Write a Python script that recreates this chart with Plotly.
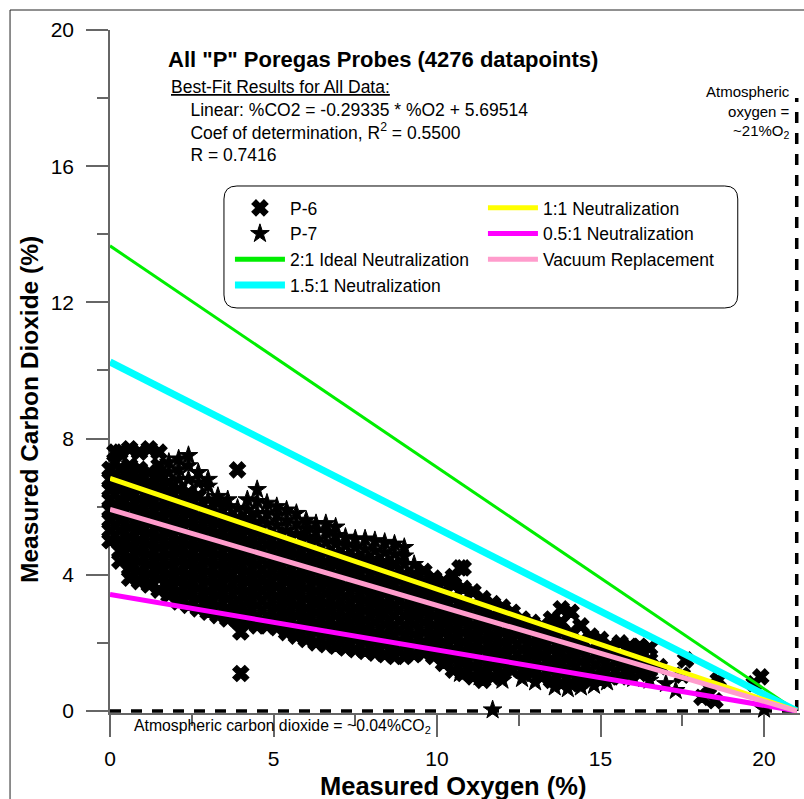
import plotly.graph_objects as go

FONT = "Liberation Sans, Arial, sans-serif"

# ---------------- data ----------------
# P-6 probe (x markers): (measured O2 %, [measured CO2 % values at that O2])
p6_columns = [
    (0.0, [5.0, 5.3, 5.6, 5.9, 6.2, 6.5, 6.8, 7.1]),
    (0.15, [6.0, 6.6, 7.3, 7.6]),
    (0.3, [4.4, 4.7, 5.0, 5.3, 5.6, 5.9, 6.2, 6.5, 6.8, 7.1, 7.6]),
    (0.6, [3.9, 4.2, 4.5, 4.8, 5.1, 5.4, 5.7, 6.0, 6.3, 6.6, 6.9, 7.2, 7.7]),
    (0.9, [3.8, 4.1, 4.4, 4.7, 5.0, 5.3, 5.6, 5.9, 6.2, 6.5, 6.8, 7.1, 7.6]),
    (1.2, [3.7, 4.0, 4.3, 4.6, 4.9, 5.2, 5.5, 5.8, 6.1, 6.4, 6.7, 7.0, 7.7]),
    (1.5, [3.55, 3.9, 4.2, 4.5, 4.8, 5.1, 5.4, 5.7, 6.0, 6.3, 6.6, 6.9, 7.2, 7.6]),
    (1.8, [3.4, 3.7, 4.0, 4.3, 4.6, 4.9, 5.2, 5.5, 5.8, 6.1, 6.4, 6.7]),
    (2.1, [3.2, 3.5, 3.8, 4.1, 4.4, 4.7, 5.0, 5.3, 5.6, 5.9, 6.2, 6.5]),
    (2.4, [3.1, 3.4, 3.7, 4.0, 4.3, 4.6, 4.9, 5.2, 5.5, 5.8, 6.1, 6.4]),
    (2.7, [3.0, 3.3, 3.6, 3.9, 4.2, 4.5, 4.8, 5.1, 5.4, 5.7, 6.0, 6.3]),
    (3.0, [2.9, 3.2, 3.5, 3.8, 4.1, 4.4, 4.7, 5.0, 5.3, 5.6, 5.9]),
    (3.3, [2.8, 3.1, 3.4, 3.7, 4.0, 4.3, 4.6, 4.9, 5.2, 5.5, 5.8]),
    (3.6, [2.7, 3.0, 3.3, 3.6, 3.9, 4.2, 4.5, 4.8, 5.1, 5.4, 5.7]),
    (3.9, [2.65, 2.95, 3.25, 3.55, 3.85, 4.15, 4.45, 4.75, 5.05, 5.35, 5.65]),
    (4.2, [2.6, 2.9, 3.2, 3.5, 3.8, 4.1, 4.4, 4.7, 5.0, 5.3, 5.6]),
    (4.5, [2.5, 2.8, 3.1, 3.4, 3.7, 4.0, 4.3, 4.6, 4.9, 5.2, 5.5]),
    (4.8, [2.5, 2.8, 3.1, 3.4, 3.7, 4.0, 4.3, 4.6, 4.9, 5.2]),
    (5.1, [2.45, 2.75, 3.05, 3.35, 3.65, 3.95, 4.25, 4.55, 4.85, 5.15]),
    (5.4, [2.3, 2.6, 2.9, 3.2, 3.5, 3.8, 4.1, 4.4, 4.7, 5.0]),
    (5.7, [2.2, 2.5, 2.8, 3.1, 3.4, 3.7, 4.0, 4.3, 4.6, 4.9]),
    (6.0, [2.1, 2.4, 2.7, 3.0, 3.3, 3.6, 3.9, 4.2, 4.5, 4.8]),
    (6.3, [2.0, 2.3, 2.6, 2.9, 3.2, 3.5, 3.8, 4.1, 4.4, 4.7]),
    (6.6, [1.95, 2.25, 2.55, 2.85, 3.15, 3.45, 3.75, 4.05, 4.35, 4.65]),
    (6.9, [1.9, 2.2, 2.5, 2.8, 3.1, 3.4, 3.7, 4.0, 4.3, 4.6]),
    (7.2, [1.85, 2.15, 2.45, 2.75, 3.05, 3.35, 3.65, 3.95, 4.25, 4.55]),
    (7.5, [1.8, 2.1, 2.4, 2.7, 3.0, 3.3, 3.6, 3.9, 4.2, 4.5]),
    (7.8, [1.75, 2.05, 2.35, 2.65, 2.95, 3.25, 3.55, 3.85, 4.15, 4.45]),
    (8.1, [1.7, 2.0, 2.3, 2.6, 2.9, 3.2, 3.5, 3.8, 4.1, 4.4]),
    (8.4, [1.65, 1.95, 2.25, 2.55, 2.85, 3.15, 3.45, 3.75, 4.05, 4.35]),
    (8.7, [1.6, 1.9, 2.2, 2.5, 2.8, 3.1, 3.4, 3.7, 4.0, 4.3]),
    (9.0, [1.6, 1.9, 2.2, 2.5, 2.8, 3.1, 3.4, 3.7, 4.0]),
    (9.3, [1.65, 1.95, 2.25, 2.55, 2.85, 3.15, 3.45, 3.75, 4.0]),
    (9.6, [1.7, 2.0, 2.3, 2.6, 2.9, 3.2, 3.5, 3.8, 4.1]),
    (9.9, [1.6, 1.9, 2.2, 2.5, 2.8, 3.1, 3.4, 3.7, 3.9]),
    (10.2, [1.4, 1.7, 2.0, 2.3, 2.6, 2.9, 3.2, 3.5, 3.8]),
    (10.5, [1.2, 1.5, 1.8, 2.1, 2.4, 2.7, 3.0, 3.3, 3.7, 3.95]),
    (10.8, [1.1, 1.4, 1.7, 2.0, 2.3, 2.6, 2.9, 3.2, 3.6, 4.2]),
    (11.1, [1.0, 1.3, 1.6, 1.9, 2.2, 2.5, 2.8, 3.1, 3.5]),
    (11.4, [0.9, 1.2, 1.5, 1.8, 2.1, 2.4, 2.7, 3.0, 3.3]),
    (11.7, [1.0, 1.3, 1.6, 1.9, 2.2, 2.5, 2.8, 3.15]),
    (12.0, [1.1, 1.4, 1.7, 2.0, 2.3, 2.6, 2.9, 3.05]),
    (12.3, [1.2, 1.5, 1.8, 2.1, 2.4, 2.7, 2.9]),
    (12.6, [1.2, 1.5, 1.8, 2.1, 2.4, 2.7]),
    (12.9, [1.1, 1.4, 1.7, 2.0, 2.3, 2.6]),
    (13.2, [1.0, 1.3, 1.6, 1.9, 2.2, 2.5]),
    (13.5, [0.9, 1.2, 1.5, 1.8, 2.1, 2.4, 2.7]),
    (13.8, [0.8, 1.1, 1.4, 1.7, 2.0, 2.3, 2.6, 3.0]),
    (14.1, [0.8, 1.1, 1.4, 1.7, 2.0, 2.3, 2.9]),
    (14.4, [0.85, 1.15, 1.45, 1.75, 2.05, 2.5]),
    (14.7, [0.9, 1.2, 1.5, 1.8, 2.2]),
    (15.0, [0.9, 1.2, 1.5, 1.8, 2.1]),
    (15.3, [1.0, 1.3, 1.6, 1.9]),
    (15.6, [1.0, 1.3, 1.6, 2.0]),
    (15.9, [1.1, 1.4, 1.7, 1.9]),
    (16.2, [1.1, 1.4, 1.7, 1.9]),
    (16.5, [1.2, 1.5, 1.85]),
    (16.8, [1.3]),
]
p6_extra_o2 = [3.9, 4.0, 4.0, 10.7, 17.6, 17.5, 18.1, 18.3, 18.5, 18.6, 19.7, 19.9]
p6_extra_co2 = [7.08, 2.32, 1.1, 4.2, 1.5, 1.05, 0.4, 0.7, 0.3, 0.9, 0.8, 1.0]

# P-7 probe (star markers)
p7_columns = [
    (1.8, [7.0, 7.3]),
    (2.1, [6.8, 7.1, 7.4]),
    (2.4, [6.8, 7.2, 7.5]),
    (2.7, [6.7, 7.0]),
    (3.0, [6.2, 6.6, 6.8]),
    (3.3, [6.1, 6.3]),
    (3.6, [6.0, 6.2]),
    (3.9, [5.95]),
    (4.2, [5.9, 6.2]),
    (4.5, [5.8, 6.15, 6.5]),
    (4.8, [5.5, 5.8, 6.1]),
    (5.1, [5.45, 5.75, 6.0]),
    (5.4, [5.3, 5.6, 5.9]),
    (5.7, [5.2, 5.5, 5.8]),
    (6.0, [5.1, 5.35, 5.6]),
    (6.3, [5.0, 5.25, 5.5]),
    (6.6, [4.95, 5.25, 5.5]),
    (6.9, [4.9, 5.15, 5.4]),
    (7.2, [4.85, 5.1]),
    (7.5, [4.8, 5.05]),
    (7.8, [4.75, 5.05]),
    (8.1, [4.7, 5.0]),
    (8.4, [4.65, 4.95]),
    (8.7, [4.6, 4.9]),
    (9.0, [4.3, 4.55, 4.8]),
    (9.3, [4.3]),
]
p7_extra_o2 = [10.7, 11.3, 11.7, 12.0, 12.6, 13.0, 13.6, 14.0, 14.4, 14.8,
               15.2, 16.0, 16.5, 17.0, 17.3, 20.0]
p7_extra_co2 = [1.1, 1.0, 0.03, 0.9, 0.95, 0.85, 0.7, 0.65, 0.7, 0.75,
                0.85, 0.95, 0.9, 0.8, 0.6, 0.05]

# Neutralization reference lines: from O2 = 0 to atmospheric O2 = 21 %
line_o2 = [0, 21]
line_names = ["2:1 Ideal Neutralization", "1.5:1 Neutralization", "1:1 Neutralization",
              "0.5:1 Neutralization", "Vacuum Replacement"]
line_co2 = [[13.66, 0], [10.25, 0], [6.83, 0], [3.42, 0], [5.92, 0]]

atm_co2_line_o2 = [0, 21]
atm_co2_line_co2 = [0, 0]
atm_o2_line_o2 = [21, 21]
atm_o2_line_co2 = [0, 18.0]

x_ticks = [0, 5, 10, 15, 20]
y_ticks = [0, 4, 8, 12, 16, 20]


def flatten(columns, ex_x, ex_y):
    xs, ys = [], []
    for o2, vals in columns:
        for v in vals:
            xs.append(o2)
            ys.append(v)
    return xs + ex_x, ys + ex_y


p6_x, p6_y = flatten(p6_columns, p6_extra_o2, p6_extra_co2)
p7_x, p7_y = flatten(p7_columns, p7_extra_o2, p7_extra_co2)

# ---------------- styling ----------------
line_colors = ["#00ee00", "#00ffff", "#ffff00", "#ff00ff", "#ff9ccc"]
line_widths = [3, 7, 5, 5, 5]
legend_widths = [5, 7, 5, 5, 5]
line_ranks = [5, 7, 2, 4, 6]

# geometry: x=0 -> px 110, x=21 -> px 797 ; y=0 -> px 711, y=20 -> px 30
W, H = 804, 799
XPX0, XS = 110, 687 / 21
YPX0, YS = 711, 681 / 20
X_RANGE = [0, 21.1]
Y_RANGE = [-0.06, 20]
L = XPX0
T = YPX0 - Y_RANGE[1] * YS
pw = (X_RANGE[1] - X_RANGE[0]) * XS
ph = (Y_RANGE[1] - Y_RANGE[0]) * YS
R = W - L - pw
B = H - T - ph


def px(xp):
    return (xp - L) / pw


def py(yp):
    return (T + ph - yp) / ph


fig = go.Figure()

dash_style = dict(color="black", width=3.5, dash="11px,10px")
fig.add_trace(go.Scatter(x=atm_co2_line_o2, y=atm_co2_line_co2, mode="lines",
                         line=dash_style, showlegend=False, hoverinfo="skip"))
fig.add_trace(go.Scatter(x=atm_o2_line_o2, y=atm_o2_line_co2, mode="lines",
                         line=dash_style, showlegend=False, hoverinfo="skip"))

fig.add_trace(go.Scatter(x=p6_x, y=p6_y, mode="markers", name="P-6", legendrank=1,
                         marker=dict(symbol="x", size=14, color="black",
                                     line=dict(width=1.3, color="black")),
                         cliponaxis=False))
fig.add_trace(go.Scatter(x=p7_x, y=p7_y, mode="markers", name="P-7", legendrank=3,
                         marker=dict(symbol="star", size=14, color="black",
                                     line=dict(width=1.0, color="black")),
                         cliponaxis=False))

for name, ys, c, w, lw, r in zip(line_names, line_co2, line_colors, line_widths,
                                 legend_widths, line_ranks):
    fig.add_trace(go.Scatter(x=line_o2, y=ys, mode="lines", name=name,
                             line=dict(color=c, width=w), showlegend=False))
    # legend entry with the legend's line thickness
    fig.add_trace(go.Scatter(x=[None], y=[None], mode="lines", name=name, legendrank=r,
                             line=dict(color=c, width=lw)))

axis_common = dict(showline=True, linecolor="#666666", linewidth=1.5,
                   ticks="outside", ticklen=22, tickwidth=1.5, tickcolor="#666666",
                   showgrid=False, zeroline=False, layer="below traces",
                   tickfont=dict(family=FONT, size=21, color="black"))

fig.update_xaxes(range=X_RANGE, tickvals=x_ticks, ticktext=[str(v) for v in x_ticks],
                 minor=dict(tickvals=[2.5, 7.5, 12.5, 17.5], ticks="outside", ticklen=11,
                            tickcolor="#666666", tickwidth=1.5, showgrid=False),
                 ticklabelstandoff=4, **axis_common)
fig.update_yaxes(range=Y_RANGE, tickvals=y_ticks, ticktext=[str(v) for v in y_ticks],
                 minor=dict(tickvals=[2, 6, 10, 14, 18], ticks="outside", ticklen=11,
                            tickcolor="#666666", tickwidth=1.5, showgrid=False),
                 ticklabelstandoff=8, **axis_common)

# rounded legend box (px 224..738, 186..308) in data units
x0, x1 = (224 - XPX0) / XS, (738 - XPX0) / XS
yt, yb = (YPX0 - 186) / YS, (YPX0 - 308) / YS
rx, ry = 13 / XS, 13 / YS
legend_path = (f"M{x0+rx},{yt} L{x1-rx},{yt} Q{x1},{yt} {x1},{yt-ry} "
               f"L{x1},{yb+ry} Q{x1},{yb} {x1-rx},{yb} L{x0+rx},{yb} "
               f"Q{x0},{yb} {x0},{yb+ry} L{x0},{yt-ry} Q{x0},{yt} {x0+rx},{yt} Z")

shapes = [
    dict(type="path", xref="x", yref="y", path=legend_path,
         line=dict(color="black", width=1), fillcolor="white", layer="above"),
    dict(type="rect", xref="paper", yref="paper", x0=px(10), x1=px(830),
         y0=py(830), y1=py(10), line=dict(color="#222222", width=1), layer="above"),
]

ann = []


def add_text(text, x, y, size, xanchor="left", yanchor="middle", bold=False,
             align="left", angle=0):
    ann.append(dict(text=(f"<b>{text}</b>" if bold else text), x=x, y=y,
                    xref="paper", yref="paper", xanchor=xanchor, yanchor=yanchor,
                    showarrow=False, align=align, textangle=angle,
                    font=dict(family=FONT, size=size, color="black")))


IND = "&nbsp;" * 4
fit_block = ("<u>Best-Fit Results for All Data:</u>"
             f"<br>{IND}Linear: %CO2 = -0.29335 * %O2 + 5.69514"
             f"<br>{IND}Coef of determination, R<sup>2</sup> = 0.5500"
             f"<br>{IND}R = 0.7416")

add_text('All "P" Poregas Probes (4276 datapoints)', px(166), py(60), 22, bold=True)
add_text(fit_block, px(169), py(121), 17.5)
add_text("Atmospheric carbon dioxide = ~0.04%CO<sub>2</sub>", px(132), py(727), 15.8)
add_text("Atmospheric<br>oxygen =<br>~21%O<sub>2</sub>", px(792), py(112), 15,
         xanchor="right", align="right")
add_text("Measured Oxygen (%)", px(453), py(786), 25.5, xanchor="center", bold=True)
add_text("Measured Carbon Dioxide (%)", px(30), py(410), 24.5, xanchor="center",
         bold=True, angle=-90)

fig.update_layout(
    width=W, height=H,
    margin=dict(l=L, r=R, t=T, b=B, pad=0),
    paper_bgcolor="white", plot_bgcolor="white",
    font=dict(family=FONT, color="black"),
    showlegend=True,
    legend=dict(orientation="h", x=px(230), y=py(190), xanchor="left", yanchor="top",
                bgcolor="rgba(0,0,0,0)", borderwidth=0,
                font=dict(family=FONT, size=17.5, color="black"),
                entrywidth=188, entrywidthmode="pixels", itemwidth=50,
                traceorder="normal", tracegroupgap=0),
    shapes=shapes,
    annotations=ann,
)

fig.write_html("out.html")
